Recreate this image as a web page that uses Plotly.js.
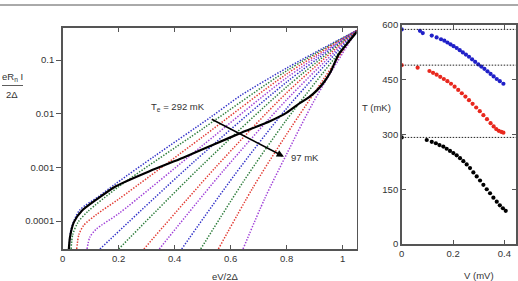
<!DOCTYPE html>
<html><head><meta charset="utf-8">
<script src="https://cdn.plot.ly/plotly-3.0.1.min.js"></script>
<style>html,body{margin:0;padding:0;background:#fff;}#chart{width:518px;height:281px;}</style>
</head><body><div id="chart"></div>
<script>
// ---------- DATA ----------
// Left panel: isotherm I-V curves (x = eV/2Δ, value = log10(eR_n I / 2Δ))
const curveTemps = [292, 274, 257, 239, 221, 203, 186, 168, 150, 132, 115, 97];
const curveV = [
  [0.023,0.03,0.06,0.126,0.193,0.331,0.527,0.639,0.8,0.93,1.05],
  [0.03,0.036,0.055,0.09,0.2,0.5,0.8,1.05],
  [0.05,0.058,0.075,0.12,0.2,0.5,0.8,1.05],
  [0.087,0.097,0.12,0.2,0.5,0.8,1.05],
  [0.133,0.4665,0.8,1.05],
  [0.2,0.5,0.8,1.05],
  [0.29,0.545,0.8,1.05],
  [0.345,0.5725,0.8,1.05],
  [0.425,0.6125,0.8,1.05],
  [0.493,0.6465,0.8,1.05],
  [0.556,0.678,0.8,1.05],
  [0.644,0.722,0.8,0.9,1.05]
];
const curveLogI = [
  [-4.52,-4.15,-3.8,-3.55,-3.29,-2.78,-2.07,-1.65,-1.15,-0.78,-0.45],
  [-4.52,-4.25,-4.02,-3.82,-3.36,-2.28,-1.2,-0.45],
  [-4.52,-4.25,-4.08,-3.88,-3.59,-2.43,-1.26,-0.45],
  [-4.52,-4.3,-4.15,-3.86,-2.59,-1.33,-0.45],
  [-4.52,-2.905,-1.41,-0.45],
  [-4.52,-2.95,-1.5,-0.45],
  [-4.52,-3.005,-1.61,-0.45],
  [-4.52,-3.07,-1.74,-0.45],
  [-4.52,-3.15,-1.9,-0.45],
  [-4.52,-3.255,-2.11,-0.45],
  [-4.52,-3.39,-2.38,-0.45],
  [-4.52,-3.575,-2.75,-1.74,-0.45]
];
// measured curve
const measV = [0.022,0.026,0.04,0.07,0.12,0.19,0.31,0.43,0.55,0.64,0.74,0.8,0.848,0.88,0.907,0.935,0.957,0.985,1.015,1.05];
const measLogI = [-4.52,-4.3,-4.02,-3.8,-3.6,-3.35,-3.07,-2.82,-2.55,-2.35,-2.14,-1.98,-1.8,-1.69,-1.57,-1.4,-1.22,-0.9,-0.7,-0.48];

// Right panel: electron temperature vs bias voltage
const blueV = [0,0.071,0.082,0.117,0.136,0.153,0.166,0.178,0.19,0.202,0.214,0.226,0.238,0.25,0.262,0.274,0.286,0.298,0.31,0.322,0.334,0.346,0.358,0.37,0.382,0.396];
const blueT = [588,584,578,571,566,561,557,552,547,542,537,531,525,519,513,506,499,492,486,480,473,466,459,452,446,439];
const redV = [0,0.062,0.108,0.122,0.136,0.15,0.164,0.178,0.192,0.206,0.22,0.234,0.248,0.262,0.276,0.29,0.304,0.318,0.332,0.346,0.358,0.368,0.378,0.388,0.396];
const redT = [490,483,474,469,464,458,452,446,439,431,422,413,404,394,384,374,364,353,342,331,322,315,310,307,305];
const blackV = [0,0.0975,0.117,0.133,0.147,0.162,0.175,0.188,0.201,0.214,0.227,0.24,0.253,0.266,0.279,0.292,0.305,0.318,0.331,0.344,0.357,0.37,0.382,0.394,0.405];
const blackT = [292,285,280,276,271,267,261,255,249,243,235,227,218,208,196,185,174,162,150,139,127,116,106,98,91];
const refT = [588, 490, 292];

const leftTickVals = [0.0001, 0.001, 0.01, 0.1];
const leftTickText = ['0.0001', '0.001', '0.01', '0.1'];
const leftXTicks = [0, 0.2, 0.4, 0.6, 0.8, 1];
const leftXText = ['0', '0.2', '0.4', '0.6', '0.8', '1'];
const rightYTicks = [0, 150, 300, 450, 600];
const rightXTicks = [0, 0.2, 0.4];
const rightXText = ['0', '0.2', '0.4'];

// ---------- STYLE / LAYOUT ----------
const W = 518, H = 281;
const PX = v => v / W, PY = v => 1 - v / H;
const palette = ['#3232c8', '#2e7d3c', '#e23a32', '#a040d8'];
const FONT = 'Liberation Sans, Arial, sans-serif';
const TXT = '#333';
const toI = a => a.map(v => Math.pow(10, v));

const traces = [];
curveV.forEach((xs, i) => {
  traces.push({
    x: xs, y: toI(curveLogI[i]), xaxis: 'x', yaxis: 'y', mode: 'lines',
    name: curveTemps[i] + ' mK',
    line: {color: palette[i % 4], width: 1.5, dash: '1.4px,1.5px', shape: 'spline', smoothing: 0.8},
    hoverinfo: 'skip'
  });
});
traces.push({
  x: measV, y: toI(measLogI), xaxis: 'x', yaxis: 'y', mode: 'lines',
  line: {color: '#000', width: 2.2, shape: 'spline', smoothing: 0.6}, hoverinfo: 'skip'
});
const mk = (xs, ys, c) => ({x: xs, y: ys, xaxis: 'x2', yaxis: 'y2', mode: 'markers',
  marker: {color: c, size: 4.2}, hoverinfo: 'skip'});
traces.push(mk(blueV, blueT, '#2020c8'));
traces.push(mk(redV, redT, '#e8281e'));
traces.push(mk(blackV, blackT, '#000'));

const axFont = {family: FONT, size: 9.5, color: TXT};
const lineCol = '#555';

const shapes = [
  {type: 'line', xref: 'paper', yref: 'paper', x0: 0, x1: 1, y0: PY(5), y1: PY(5), line: {color: '#555', width: 1}},
  {type: 'line', xref: 'paper', yref: 'paper', x0: PX(2), x1: PX(23), y0: PY(85.5), y1: PY(85.5), line: {color: TXT, width: 0.8}}
];
refT.forEach(t => shapes.push({type: 'line', xref: 'x2 domain', yref: 'y2', x0: 0, x1: 1, y0: t, y1: t,
  line: {color: '#222', width: 1, dash: '1.5px,1.5px'}}));

const ann = (x, y, text, extra) => Object.assign({xref: 'paper', yref: 'paper', x: PX(x), y: PY(y), text: text,
  showarrow: false, xanchor: 'center', yanchor: 'middle', font: axFont}, extra || {});

const layout = {
  width: W, height: H, margin: {l: 0, r: 0, t: 0, b: 0},
  paper_bgcolor: '#fff', plot_bgcolor: '#fff', showlegend: false,
  font: axFont,
  xaxis: {domain: [PX(62.7), PX(356.7)], range: [0, 1.05], tickvals: leftXTicks, ticktext: leftXText,
    ticks: 'inside', ticklen: 4, tickcolor: lineCol, showline: true, linecolor: lineCol, linewidth: 1.6,
    mirror: 'ticks', showgrid: false, zeroline: false, anchor: 'y', tickfont: axFont},
  yaxis: {domain: [PY(249), PY(28)], type: 'log', range: [-4.52, -0.404], tickvals: leftTickVals, ticktext: leftTickText,
    ticks: 'outside', ticklen: 5, tickcolor: lineCol, showline: true, linecolor: lineCol, linewidth: 1.6,
    mirror: true, showgrid: false, zeroline: false, anchor: 'x', tickfont: axFont},
  yaxis3: {overlaying: 'y', side: 'right', anchor: 'x', type: 'log', range: [-4.52, -0.404], tickvals: leftTickVals,
    showticklabels: false, ticks: 'inside', ticklen: 4, tickcolor: lineCol, showline: false, showgrid: false, zeroline: false},
  xaxis2: {domain: [PX(401.7), PX(516)], range: [0, 0.445], tickvals: rightXTicks, ticktext: rightXText,
    ticks: 'inside', ticklen: 4, tickcolor: lineCol, showline: true, linecolor: lineCol, linewidth: 1.6,
    mirror: 'ticks', showgrid: false, zeroline: false, anchor: 'y2', tickfont: axFont},
  yaxis2: {domain: [PY(244), PY(25)], range: [0, 600], tickvals: rightYTicks,
    ticks: 'inside', ticklen: 4, tickcolor: lineCol, showline: true, linecolor: lineCol, linewidth: 1.6,
    mirror: 'ticks', showgrid: false, zeroline: false, anchor: 'x2', tickfont: axFont},
  shapes: shapes,
  annotations: [
    ann(12.5, 77, 'eR<sub>n</sub> I'),
    ann(12, 94, '2Δ'),
    ann(225, 276, 'eV/2Δ'),
    ann(178, 107, 'T<sub>e</sub> = 292 mK'),
    ann(289, 157, '97 mK', {xanchor: 'left'}),
    {xref: 'x', yref: 'y', x: 0.79, y: -2.8, axref: 'x', ayref: 'y', ax: 0.527, ay: -2.09, text: '',
      showarrow: true, arrowhead: 2, arrowsize: 0.9, arrowwidth: 1.6, arrowcolor: '#000'},
    ann(376, 107, 'T (mK)'),
    ann(479, 275, 'V (mV)')
  ]
};
Plotly.newPlot('chart', traces, layout, {staticPlot: true, displayModeBar: false});
</script></body></html>
